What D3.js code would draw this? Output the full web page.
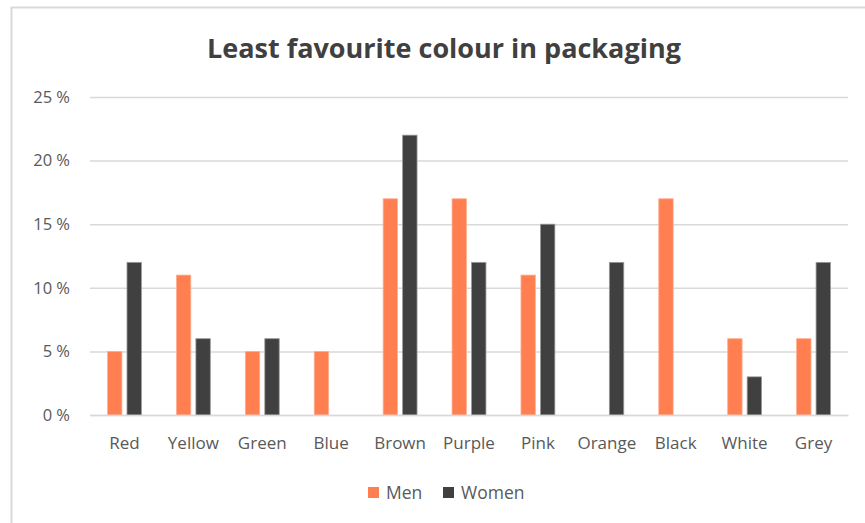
<!DOCTYPE html>
<html lang="en">
<head>
<meta charset="UTF-8">
<title>Least favourite colour in packaging</title>
<script src="https://cdn.jsdelivr.net/npm/d3@7/dist/d3.min.js"></script>
<style>
  body { margin: 0; background: #fff; }
  svg { display: block; font-family: "Open Sans", "Noto Sans", sans-serif; }
</style>
</head>
<body>
<svg width="865" height="523"></svg>
<script>
// data
var categories = ["Red", "Yellow", "Green", "Blue", "Brown", "Purple", "Pink", "Orange", "Black", "White", "Grey"];
var series = ["Men", "Women"];
var men   = [5, 11, 5, 5, 17, 17, 11, 0, 17, 6, 6];
var women = [12, 6, 6, 0, 22, 12, 15, 12, 0, 3, 12];
var yTicks = [0, 5, 10, 15, 20, 25];

var colors = { Men: "#ff7f50", Women: "#404040" };
var strokes = { Men: "#ffb094", Women: "#9a9a9a" };

var svg = d3.select("svg");
var plot = { left: 90, right: 848, top: 97, bottom: 415 };

// chart frame (cut off at right and bottom)
svg.append("rect")
  .attr("x", 11.5).attr("y", 7.5)
  .attr("width", 900).attr("height", 600)
  .attr("fill", "none")
  .attr("stroke", "#d9d9d9")
  .attr("stroke-width", 2);

// title
svg.append("text")
  .attr("x", 444).attr("y", 58)
  .attr("text-anchor", "middle")
  .attr("font-size", 27)
  .attr("font-weight", "bold")
  .attr("fill", "#404040")
  .text("Least favourite colour in packaging");

var x0 = d3.scaleBand().domain(categories).range([plot.left, plot.right]).padding(0);
var bw = x0.bandwidth();
var x1 = d3.scaleBand().domain(series).range([bw * 0.254, bw * 0.746]).paddingInner(0.26);
var y = d3.scaleLinear().domain([0, 25]).range([plot.bottom, plot.top]);

// gridlines + y labels
var yAxis = d3.axisLeft(y)
  .tickValues(yTicks)
  .tickSize(-(plot.right - plot.left))
  .tickSizeOuter(0)
  .tickPadding(20)
  .tickFormat(function(d) { return d + " %"; });

var gy = svg.append("g")
  .attr("transform", "translate(" + plot.left + ",0)")
  .call(yAxis);
gy.select(".domain").remove();
gy.selectAll(".tick line").attr("stroke", "#d9d9d9").attr("stroke-width", 1.5);
gy.selectAll(".tick text")
  .attr("fill", "#595959")
  .attr("font-size", 16.5)
  .attr("font-family", "Open Sans, sans-serif");

// bars
var rows = categories.map(function(c, i) {
  return { cat: c, vals: [{ s: "Men", v: men[i] }, { s: "Women", v: women[i] }] };
});

var groups = svg.append("g").selectAll("g")
  .data(rows)
  .enter().append("g")
  .attr("transform", function(d) { return "translate(" + x0(d.cat) + ",0)"; });

groups.selectAll("rect")
  .data(function(d) { return d.vals.filter(function(e) { return e.v > 0; }); })
  .enter().append("rect")
  .attr("x", function(d) { return x1(d.s); })
  .attr("y", function(d) { return y(d.v); })
  .attr("width", x1.bandwidth())
  .attr("height", function(d) { return y(0) - y(d.v); })
  .attr("fill", function(d) { return colors[d.s]; })
  .attr("stroke", function(d) { return strokes[d.s]; })
  .attr("stroke-width", 0.8);

// x axis
var xAxis = d3.axisBottom(x0).tickSize(0).tickSizeOuter(0).tickPadding(22);
var gx = svg.append("g")
  .attr("transform", "translate(0," + plot.bottom + ")")
  .call(xAxis);
gx.select(".domain").attr("stroke", "#d9d9d9").attr("stroke-width", 1.5);
gx.selectAll(".tick text")
  .attr("fill", "#595959")
  .attr("font-size", 17)
  .attr("font-family", "Open Sans, sans-serif");

// legend
var legend = svg.append("g").attr("transform", "translate(368,487)");
var legX = { Men: 0, Women: 75 };
series.forEach(function(s) {
  var g = legend.append("g").attr("transform", "translate(" + legX[s] + ",0)");
  g.append("rect").attr("width", 11).attr("height", 11).attr("fill", colors[s]);
  g.append("text")
    .attr("x", 18).attr("y", 11.5)
    .attr("font-size", 17.5)
    .attr("fill", "#595959")
    .text(s);
});
</script>
</body>
</html>
